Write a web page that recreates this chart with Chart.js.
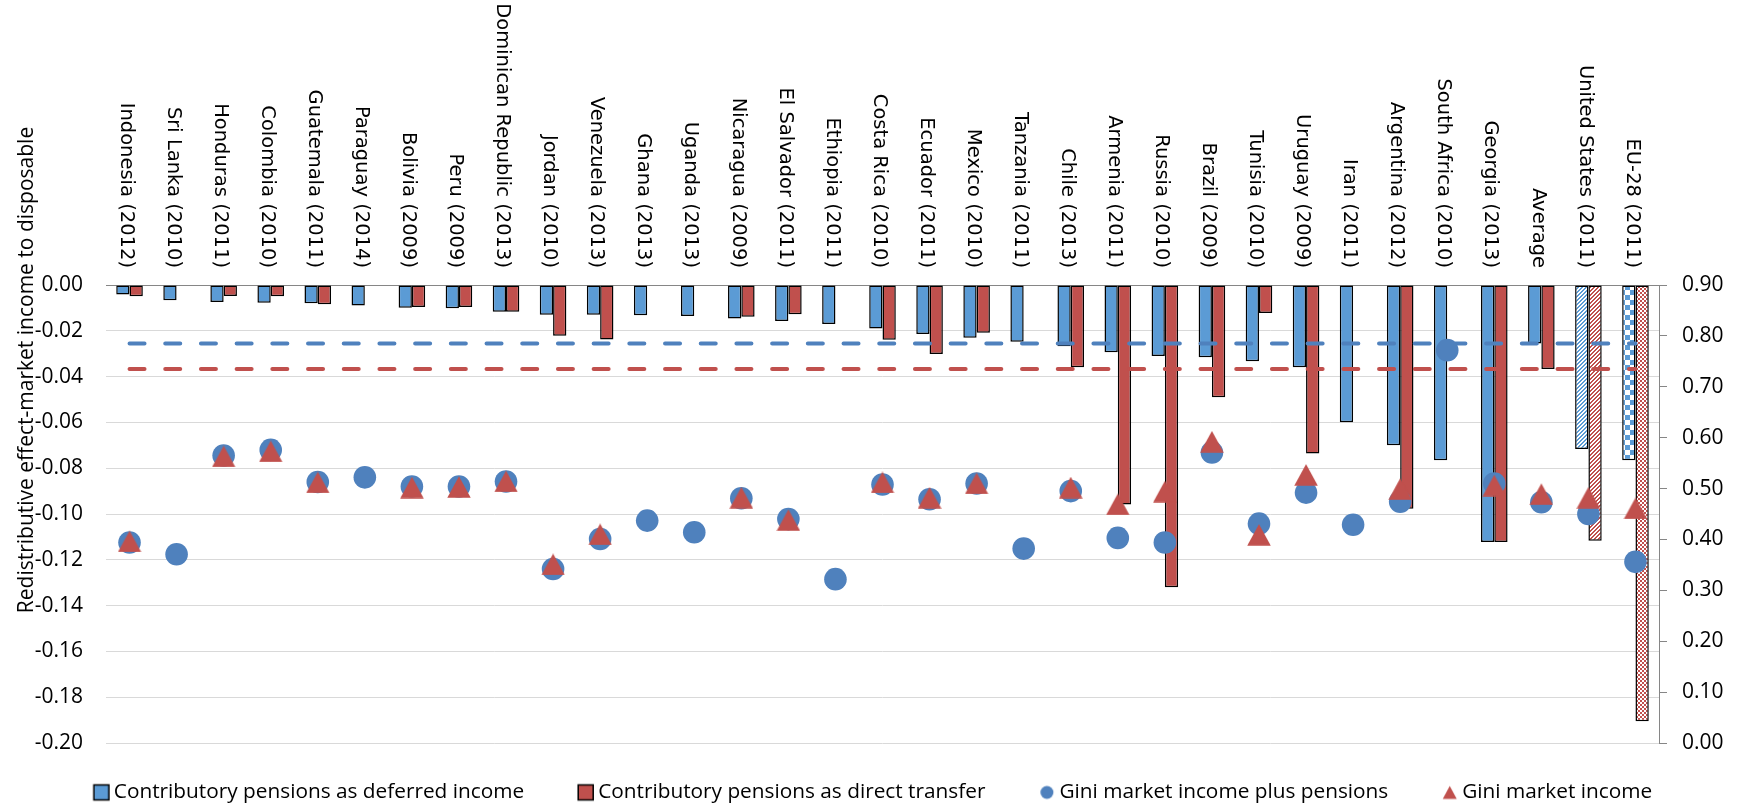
<!DOCTYPE html>
<html>
<head>
<meta charset="utf-8">
<title>Redistributive effect of contributory pensions</title>
<script src="https://cdn.jsdelivr.net/npm/chart.js@4.4.1/dist/chart.umd.min.js"></script>
<style>
  html, body { margin: 0; padding: 0; background: #ffffff; }
  canvas { display: block; }
</style>
</head>
<body>
<canvas id="chart" width="1739" height="803"></canvas>
<script>
// ---- data -------------------------------------------------------------
const categories = [
  'Indonesia (2012)', 'Sri Lanka (2010)', 'Honduras (2011)', 'Colombia (2010)',
  'Guatemala (2011)', 'Paraguay (2014)', 'Bolivia (2009)', 'Peru (2009)',
  'Dominican Republic (2013)', 'Jordan (2010)', 'Venezuela (2013)', 'Ghana (2013)',
  'Uganda (2013)', 'Nicaragua (2009)', 'El Salvador (2011)', 'Ethiopia (2011)',
  'Costa Rica (2010)', 'Ecuador (2011)', 'Mexico (2010)', 'Tanzania (2011)',
  'Chile (2013)', 'Armenia (2011)', 'Russia (2010)', 'Brazil (2009)',
  'Tunisia (2010)', 'Uruguay (2009)', 'Iran (2011)', 'Argentina (2012)',
  'South Africa (2010)', 'Georgia (2013)', 'Average', 'United States (2011)',
  'EU-28 (2011)'
];

// redistributive effect, left axis
const deferredIncome = [
  -0.0041, -0.0067, -0.0074, -0.0077, -0.0080, -0.0090, -0.0099, -0.0101,
  -0.0117, -0.0130, -0.0130, -0.0132, -0.0135, -0.0146, -0.0157, -0.0170,
  -0.0190, -0.0214, -0.0230, -0.0248, -0.0268, -0.0294, -0.0310, -0.0316,
  -0.0333, -0.0359, -0.0599, -0.0700, -0.0765, -0.1122, -0.0255, -0.0716,
  -0.0765
];
const directTransfer = [
  -0.0049, null, -0.0048, -0.0049, -0.0084, null, -0.0096, -0.0096,
  -0.0117, -0.0222, -0.0238, null, null, -0.0139, -0.0128, null,
  -0.0239, -0.0301, -0.0209, null, -0.0359, -0.0958, -0.1320, -0.0490,
  -0.0122, -0.0736, null, -0.0977, null, -0.1122, -0.0367, -0.1117,
  -0.1905
];

// Gini coefficients, right axis
const giniPlusPensions = [
  0.394, 0.371, 0.565, 0.576, 0.513, 0.522, 0.504, 0.504,
  0.514, 0.342, 0.401, 0.437, 0.414, 0.481, 0.440, 0.322,
  0.508, 0.479, 0.510, 0.382, 0.495, 0.403, 0.394, 0.571,
  0.431, 0.492, 0.429, 0.474, 0.772, 0.510, 0.473, 0.450,
  0.356
];
const giniMarket = [
  0.396, null, 0.563, 0.573, 0.512, null, 0.502, 0.503,
  0.514, 0.351, 0.410, null, null, 0.482, 0.438, null,
  0.512, 0.482, 0.510, null, 0.502, 0.469, 0.494, 0.592,
  0.409, 0.527, null, 0.499, null, 0.506, 0.489, 0.482,
  0.461
];

const seriesNames = [
  'Contributory pensions as deferred income',
  'Contributory pensions as direct transfer',
  'Gini market income plus pensions',
  'Gini market income'
];
const axisTitle = 'Redistributive effect-market income to disposable';
const leftAxisRange = [-0.20, 0.00];
const rightAxisRange = [0.00, 0.90];

// ---- styling helpers ----------------------------------------------------
const BLUE_BAR = '#5B9BD5';
const RED_BAR = '#C0504D';
const BLUE_MARK = '#4F81BD';
const RED_MARK = '#C0504D';
const TEXT = '#000000';

const canvas = document.getElementById('chart');
const ctx = canvas.getContext('2d');

function makeCanvas(w, h, paint) {
  const c = document.createElement('canvas');
  c.width = w; c.height = h;
  paint(c.getContext('2d'), w, h);
  return c;
}
function stripes(color) {
  return ctx.createPattern(makeCanvas(4, 4, (g) => {
    g.fillStyle = '#ffffff'; g.fillRect(0, 0, 4, 4);
    g.fillStyle = color;
    for (let y = 0; y < 4; y++) for (let x = 0; x < 4; x++) {
      if ((x + y) % 4 < 2) g.fillRect(x, y, 1, 1);
    }
  }), 'repeat');
}
function checker(color, s) {
  return ctx.createPattern(makeCanvas(2 * s, 2 * s, (g) => {
    g.fillStyle = '#ffffff'; g.fillRect(0, 0, 2 * s, 2 * s);
    g.fillStyle = color;
    g.fillRect(0, 0, s, s); g.fillRect(s, s, s, s);
  }), 'repeat');
}
const barFill = (base, usFill, euFill) => categories.map((c) =>
  c === 'United States (2011)' ? usFill : (c === 'EU-28 (2011)' ? euFill : base));

function drawTriangle(g, cx, cy, w, h, color) {
  g.fillStyle = color;
  g.beginPath();
  g.moveTo(cx, cy - h / 2);
  g.lineTo(cx + w / 2, cy + h / 2);
  g.lineTo(cx - w / 2, cy + h / 2);
  g.closePath();
  g.fill();
}
const triangleMarker = makeCanvas(24, 22, (g, w, h) => drawTriangle(g, w / 2, h / 2, 23.5, 21.5, RED_MARK));

// legend keys: a wide transparent image with the key at its right end
const LEGEND_FONT = 20.8;
const LEGEND_GAP = 2;
const KEY_WIDTH = 61.6;
const keyOffset = KEY_WIDTH / 2 + LEGEND_FONT / 2 - 12.5;
function legendKey(paint) {
  const w = Math.ceil(2 * (keyOffset + 10));
  return makeCanvas(w, 22, (g) => paint(g, w / 2 + keyOffset, 11));
}
function boxKey(color) {
  return legendKey((g, cx, cy) => {
    g.fillStyle = color; g.fillRect(cx - 7.5, cy - 7.5, 15, 15);
    g.strokeStyle = '#000'; g.lineWidth = 1.5; g.strokeRect(cx - 7.5, cy - 7.5, 15, 15);
  });
}
const legendKeys = [
  boxKey(BLUE_BAR),
  boxKey(RED_BAR),
  legendKey((g, cx, cy) => { g.fillStyle = BLUE_MARK; g.beginPath(); g.arc(cx, cy, 6.5, 0, Math.PI * 2); g.fill(); }),
  legendKey((g, cx, cy) => drawTriangle(g, cx, cy, 14, 13, RED_MARK))
];

// ---- text drawn around the plot --------------------------------------------
const outsideText = {
  id: 'outsideText',
  afterDraw(chart) {
    const { ctx: c, chartArea, scales } = chart;
    c.save();
    c.fillStyle = TEXT;
    c.font = '19.5px "DejaVu Sans"';
    c.textAlign = 'right';
    c.textBaseline = 'alphabetic';
    categories.forEach((label, i) => {
      const px = scales.x.getPixelForValue(i);
      c.save();
      c.translate(px - 8.8, chartArea.top - 17);
      c.rotate(Math.PI / 2);
      c.fillText(label, 0, 0);
      c.restore();
    });
    c.font = '21px "Open Sans"';
    c.textAlign = 'center';
    c.translate(33, 370);
    c.rotate(-Math.PI / 2);
    c.fillText(axisTitle, 0, 0);
    c.restore();
  }
};

const firstCat = categories[0];
const lastCat = categories[categories.length - 1];
const avgIndex = categories.indexOf('Average');

new Chart(ctx, {
  type: 'bar',
  data: {
    labels: categories,
    datasets: [
      {
        label: seriesNames[0], data: deferredIncome, yAxisID: 'y', order: 4,
        backgroundColor: barFill(BLUE_BAR, stripes(BLUE_BAR), checker(BLUE_BAR, 5)),
        borderColor: '#000', borderWidth: 1.5, borderSkipped: false
      },
      {
        label: seriesNames[1], data: directTransfer, yAxisID: 'y', order: 5,
        backgroundColor: barFill(RED_BAR, stripes(RED_BAR), checker(RED_BAR, 2)),
        borderColor: '#000', borderWidth: 1.5, borderSkipped: false
      },
      {
        type: 'line', label: seriesNames[2], data: giniPlusPensions, yAxisID: 'y2', order: 1,
        showLine: false, pointStyle: 'circle', pointRadius: 11.3, pointBorderWidth: 0,
        pointBackgroundColor: BLUE_MARK, backgroundColor: BLUE_MARK, borderColor: BLUE_MARK
      },
      {
        type: 'line', label: seriesNames[3], data: giniMarket, yAxisID: 'y2', order: 0,
        showLine: false, pointStyle: triangleMarker, pointRadius: 11,
        backgroundColor: RED_MARK, borderColor: RED_MARK
      },
      {
        type: 'line', label: 'Average deferred', yAxisID: 'y', order: 2,
        data: [{ x: firstCat, y: deferredIncome[avgIndex] }, { x: lastCat, y: deferredIncome[avgIndex] }],
        borderColor: BLUE_MARK, borderWidth: 4, borderDash: [15, 20.7], borderCapStyle: 'round',
        pointRadius: 0, fill: false
      },
      {
        type: 'line', label: 'Average direct', yAxisID: 'y', order: 3,
        data: [{ x: firstCat, y: directTransfer[avgIndex] }, { x: lastCat, y: directTransfer[avgIndex] }],
        borderColor: RED_MARK, borderWidth: 4, borderDash: [15, 20.7], borderCapStyle: 'round',
        pointRadius: 0, fill: false
      }
    ]
  },
  options: {
    responsive: false,
    animation: false,
    events: [],
    // the negative left inset only moves the centre line of the legend row
    layout: { padding: { top: 285, right: 0, bottom: 0, left: -45 } },
    datasets: { bar: { categoryPercentage: 0.565, barPercentage: 1.0 } },
    scales: {
      x: {
        position: 'bottom',
        grid: { display: false },
        border: { display: false },
        ticks: { display: false },
        afterFit: (s) => { s.height = 37; }
      },
      y: {
        position: 'left',
        min: leftAxisRange[0], max: leftAxisRange[1],
        border: { display: false },
        grid: {
          drawTicks: false, lineWidth: 1,
          color: (c) => (c.tick && c.tick.value === 0 ? '#868686' : '#D9D9D9')
        },
        ticks: {
          stepSize: 0.02, padding: 23, color: TEXT,
          font: { family: '"Open Sans"', size: 21 },
          callback: (v) => Number(v).toFixed(2)
        },
        afterFit: (s) => { s.width = 151; }
      },
      y2: {
        position: 'right',
        min: rightAxisRange[0], max: rightAxisRange[1],
        border: { display: true, color: '#868686', width: 1 },
        grid: { drawOnChartArea: false, drawTicks: true, tickLength: 8, color: '#868686' },
        ticks: {
          stepSize: 0.1, padding: 15, color: TEXT,
          font: { family: '"Open Sans"', size: 21 },
          callback: (v) => Number(v).toFixed(2)
        },
        afterFit: (s) => { s.width = 80; }
      }
    },
    plugins: {
      tooltip: { enabled: false },
      legend: {
        position: 'bottom',
        maxHeight: 23,
        labels: {
          usePointStyle: true,
          pointStyleWidth: KEY_WIDTH,
          padding: LEGEND_GAP,
          color: TEXT,
          font: { family: '"Open Sans"', size: LEGEND_FONT },
          generateLabels: (chart) => Chart.defaults.plugins.legend.labels.generateLabels(chart)
            .map((item) => Object.assign(item, { pointStyle: legendKeys[item.datasetIndex] })),
          filter: (item) => item.datasetIndex < 4,
          sort: (a, b) => a.datasetIndex - b.datasetIndex
        }
      }
    }
  },
  plugins: [outsideText]
});
</script>
</body>
</html>
